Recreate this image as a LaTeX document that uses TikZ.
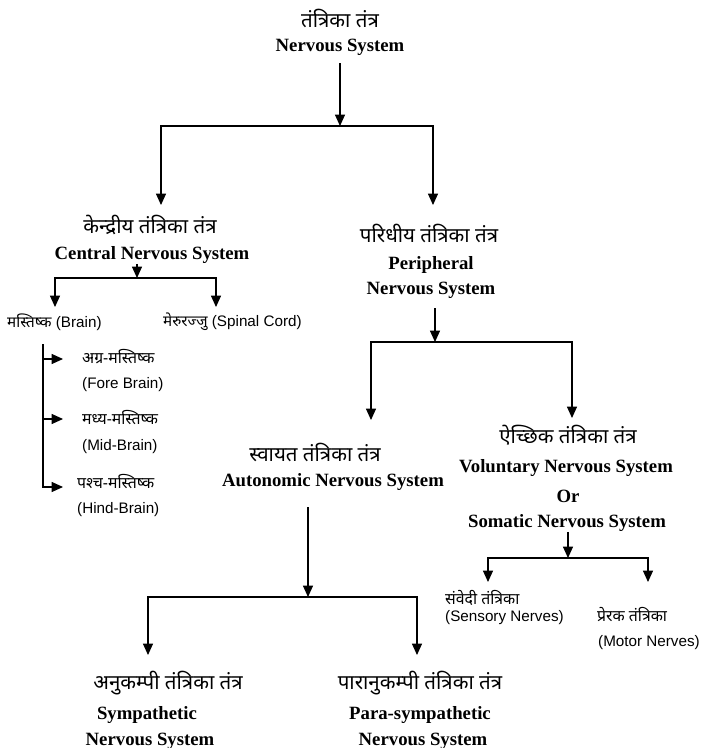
\documentclass[tikz,border=0pt]{standalone}
\usepackage{fontspec}
\setmainfont{Liberation Serif}
\newfontfamily\hindi[Script=Devanagari]{Noto Sans}
\newfontfamily\arial{Liberation Sans}
\usetikzlibrary{arrows.meta}

\tikzstyle{line} = [draw, line width=0.9pt]
\tikzstyle{arr} = [line, -{Triangle[length=3.4mm,width=3mm]}]
\tikzstyle{hbig} = [inner sep=0pt, font=\hindi\fontsize{17.5}{20}\selectfont]
\tikzstyle{hsmall} = [inner sep=0pt, font=\hindi\fontsize{13.5}{16}\selectfont]
\tikzstyle{ebig} = [inner sep=0pt, font=\fontsize{16}{19}\selectfont\bfseries]
\tikzstyle{esmall} = [inner sep=0pt, font=\arial\fontsize{13}{16}\selectfont]

\begin{document}
\begin{tikzpicture}[x=0.03cm,y=-0.03cm]
\useasboundingbox (0,0) rectangle (702,748);
%\draw[help lines,step=50] (0,0) grid (702,748);

%titles
\node[hbig] (nsh) at (340,18) {तंत्रिका तंत्र};%
\node[ebig] (nse) at (340,47) {Nervous System};%
\node[hbig] (cnsh) at (150,225) {केन्द्रीय तंत्रिका तंत्र};%
\node[ebig] (cnse) at (152,255) {Central Nervous System};%
\node[hbig] (pnsh) at (429,233) {परिधीय तंत्रिका तंत्र};%
\node[ebig] (pnse1) at (431,265) {Peripheral};%
\node[ebig] (pnse) at (431,290) {Nervous System};%
\node[hbig] (ansh) at (315,452) {स्वायत तंत्रिका तंत्र};%
\node[ebig] (anse) at (333,482) {Autonomic Nervous System};%
\node[hbig] (vnsh) at (568,435) {ऐच्छिक तंत्रिका तंत्र};%
\node[ebig] (vnse) at (566,468) {Voluntary Nervous System};%
\node[ebig] (or) at (568,496) {Or};%
\node[ebig] (sne) at (567,523) {Somatic Nervous System};%
\node[hbig] (syh) at (168,683) {अनुकम्पी तंत्रिका तंत्र};%
\node[ebig] (sye1) at (147,715) {Sympathetic};%
\node[ebig] (sye2) at (150,741) {Nervous System};%
\node[hbig] (psh) at (420,683) {पारानुकम्पी तंत्रिका तंत्र};%
\node[ebig] (pse1) at (420,715) {Para-sympathetic};%
\node[ebig] (pse2) at (423,741) {Nervous System};%

%small labels
\node[esmall,anchor=west] (br) at (7,322) {{\hindi\fontsize{13}{16}\selectfont मस्तिष्क} (Brain)};%
\node[esmall,anchor=west] (sc) at (163,322) {{\hindi\fontsize{13}{16}\selectfont मेरुरज्जु} (Spinal Cord)};%
\node[hsmall,anchor=west] (fb1) at (82,357) {अग्र-मस्तिष्क};%
\node[esmall,anchor=west] (fb2) at (82,385) {(Fore Brain)};%
\node[hsmall,anchor=west] (mb1) at (82,418) {मध्य-मस्तिष्क};%
\node[esmall,anchor=west] (mb2) at (82,447) {(Mid-Brain)};%
\node[hsmall,anchor=west] (hb1) at (77,482) {पश्च-मस्तिष्क};%
\node[esmall,anchor=west] (hb2) at (77,510) {(Hind-Brain)};%
\node[hsmall,anchor=west] (sn1) at (445,598) {संवेदी तंत्रिका};%
\node[esmall,anchor=west] (sn2) at (445,618) {(Sensory Nerves)};%
\node[hsmall,anchor=west] (mn1) at (597,615) {प्रेरक तंत्रिका};%
\node[esmall,anchor=west] (mn2) at (598,643) {(Motor Nerves)};%

%joints
\coordinate (j1) at (340,126);% nervous system
\coordinate (cnsin) at (161,205);
\coordinate (pnsin) at (433,205);
\coordinate (j2) at (137,278);% central
\coordinate (brin) at (55,307);
\coordinate (scin) at (216,307);
\coordinate (b0) at (43,344);% brain
\coordinate (fbin) at (63,359);
\coordinate (mbin) at (63,419);
\coordinate (hbin) at (63,487);
\coordinate (j3) at (435,342);% peripheral
\coordinate (ansin) at (371,420);
\coordinate (vnsin) at (572,418);
\coordinate (j4) at (308,597);% autonomic
\coordinate (syin) at (148,655);
\coordinate (psin) at (417,655);
\coordinate (j5) at (568,558);% somatic
\coordinate (snin) at (488,582);
\coordinate (mnin) at (648,582);

%lines
\path [arr,shorten <=2.4mm] (nse) -- (j1);
\path [arr] (j1) -| (cnsin);
\path [arr] (j1) -| (pnsin);
\path [arr] (cnse.south -| j2) -- (j2);
\path [arr] (j2) -| (brin);
\path [arr] (j2) -| (scin);
\path [arr] (b0) |- (hbin);
\path [arr] (fbin -| b0) -- (fbin);
\path [arr] (mbin -| b0) -- (mbin);
\path [arr,shorten <=3mm] (pnse.south -| j3) -- (j3);
\path [arr] (j3) -| (ansin);
\path [arr] (j3) -| (vnsin);
\path [arr,shorten <=5mm] (anse.south -| j4) -- (j4);
\path [arr] (j4) -| (syin);
\path [arr] (j4) -| (psin);
\path [arr] (sne.south -| j5) -- (j5);
\path [arr] (j5) -| (snin);
\path [arr] (j5) -| (mnin);
\end{tikzpicture}
\end{document}
